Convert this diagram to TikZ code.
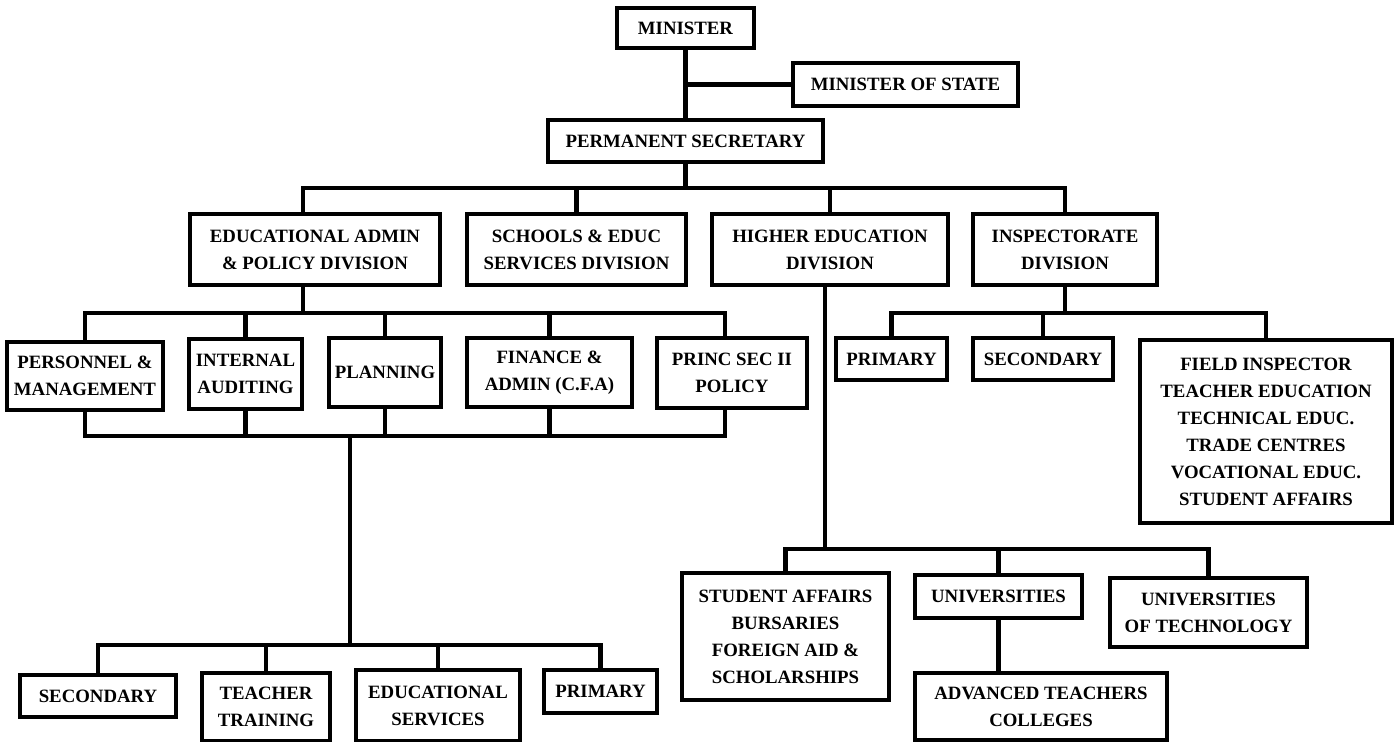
\documentclass[tikz,border=0pt]{standalone}
\usepackage{fontspec}
\setmainfont{Liberation Serif}
\usepackage{tikz}
\tikzstyle{box} = [rectangle, draw=black, line width=1.7pt, inner sep=0pt, align=center, font=\bfseries\fontsize{9.4}{13.5}\selectfont]
\tikzstyle{line} = [line width=2.2pt]

\begin{document}
\begin{tikzpicture}[x=0.5pt, y=-0.5pt]
\useasboundingbox (0,0) rectangle (1398,742);
% top
\node (min) [box, minimum width=68.5pt, minimum height=20pt] at (685.5,28) {MINISTER};
\node (mos) [box, minimum width=112.5pt, minimum height=21.5pt] at (905.5,84.5) {MINISTER OF STATE};
\node (ps) [box, minimum width=137.5pt, minimum height=21pt] at (685.5,141) {PERMANENT SECRETARY};
% divisions
\node (ead) [box, minimum width=125pt, minimum height=35.5pt] at (315,249.5) {EDUCATIONAL ADMIN\\ \& POLICY DIVISION};
\node (sed) [box, minimum width=109.5pt, minimum height=35.5pt] at (576.5,249.5) {SCHOOLS \& EDUC\\ SERVICES DIVISION};
\node (hed) [box, minimum width=118pt, minimum height=35.5pt] at (830,249.5) {HIGHER EDUCATION\\ DIVISION};
\node (ins) [box, minimum width=92pt, minimum height=35.5pt] at (1065,249.5) {INSPECTORATE\\ DIVISION};
% educational admin
\node (per) [box, minimum width=78pt, minimum height=34pt] at (85,376) {PERSONNEL \&\\ MANAGEMENT};
\node (aud) [box, minimum width=56.5pt, minimum height=35pt] at (245.5,374) {INTERNAL\\ AUDITING};
\node (pla) [box, minimum width=56pt, minimum height=34.5pt] at (385,372.5) {PLANNING};
\node (fin) [box, minimum width=82.5pt, minimum height=34.5pt] at (549.5,372.5) {FINANCE \&\\ ADMIN (C.F.A)};
\node (psp) [box, minimum width=75pt, minimum height=35pt] at (732,373) {PRINC SEC II\\ POLICY};
\node (sec) [box, minimum width=78pt, minimum height=21pt] at (98,696) {SECONDARY};
\node (tt) [box, minimum width=64pt, minimum height=34pt] at (266,707) {TEACHER\\ TRAINING};
\node (es) [box, minimum width=82pt, minimum height=35.5pt] at (438,705.5) {EDUCATIONAL\\ SERVICES};
\node (prim) [box, minimum width=56.5pt, minimum height=21.5pt] at (600.5,691.5) {PRIMARY};
% inspectorate
\node (ipr) [box, minimum width=55.5pt, minimum height=21pt] at (891.5,359) {PRIMARY};
\node (isec) [box, minimum width=70pt, minimum height=21pt] at (1043,359) {SECONDARY};
\node (fld) [box, minimum width=126pt, minimum height=91.5pt] at (1266,431.5) {FIELD INSPECTOR\\ TEACHER EDUCATION\\ TECHNICAL EDUC.\\ TRADE CENTRES\\ VOCATIONAL EDUC.\\ STUDENT AFFAIRS};
% higher education
\node (sa) [box, minimum width=103.5pt, minimum height=63.5pt] at (785.5,636.5) {STUDENT AFFAIRS\\ BURSARIES\\ FOREIGN AID \&\\ SCHOLARSHIPS};
\node (uni) [box, minimum width=83.5pt, minimum height=21.5pt] at (998.5,596.5) {UNIVERSITIES};
\node (ut) [box, minimum width=98.5pt, minimum height=34.5pt] at (1208.5,612.5) {UNIVERSITIES\\ OF TECHNOLOGY};
\node (atc) [box, minimum width=126pt, minimum height=33.5pt] at (1041,706.5) {ADVANCED TEACHERS\\ COLLEGES};

\coordinate (b1) at (685.5,188);
\coordinate (b2) at (303,313);
\coordinate (b3) at (350,436);
\coordinate (b4) at (350,645);
\coordinate (b5) at (825,549);
\coordinate (b6) at (1065,313);

\draw [line] (min) -- (ps);
\draw [line] (mos) -- (mos -| min);
\draw [line] (ps) -- (b1);
\draw [line] ([xshift=-6pt]ead.north) |- (b1);
\draw [line] (sed.north) |- (b1);
\draw [line] (hed.north) |- (b1);
\draw [line] (ins.north) |- (b1);
\draw [line] ([xshift=-6pt]ead.south) -- (b2);
\draw [line] (per.north) |- (b2);
\draw [line] (aud.north) |- (b2);
\draw [line] (pla.north) |- (b2);
\draw [line] (fin.north) |- (b2);
\draw [line] ([xshift=-3.5pt]psp.north) |- (b2);
\draw [line] (per.south) |- (b3);
\draw [line] (aud.south) |- (b3);
\draw [line] (pla.south) |- (b3);
\draw [line] (fin.south) |- (b3);
\draw [line] ([xshift=-3.5pt]psp.south) |- (b3);
\draw [line] (b3) -- (b4);
\draw [line] (sec.north) |- (b4);
\draw [line] (tt.north) |- (b4);
\draw [line] (es.north) |- (b4);
\draw [line] (prim.north) |- (b4);
\draw [line] ([xshift=-2.5pt]hed.south) -- (b5);
\draw [line] (sa.north) |- (b5);
\draw [line] (uni.north) |- (b5);
\draw [line] (ut.north) |- (b5);
\draw [line] (uni.south) -- (uni.south |- atc.north);
\draw [line] (ins.south) -- (b6);
\draw [line] (ipr.north) |- (b6);
\draw [line] (isec.north) |- (b6);
\draw [line] (fld.north) |- (b6);
\end{tikzpicture}
\end{document}
